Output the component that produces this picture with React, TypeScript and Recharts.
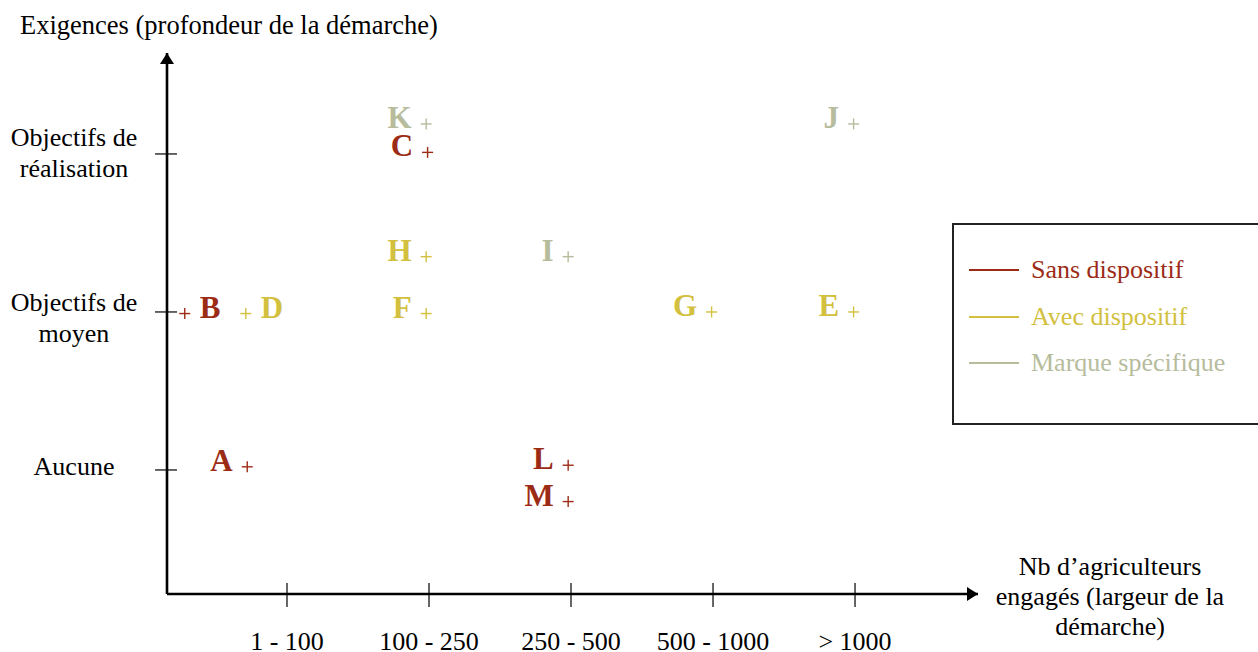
import { ScatterChart, Scatter, XAxis, YAxis, ReferenceDot } from 'recharts';

type Point = { name: string; x: number; y: number };

// x: class of farmers (1 = "1 - 100" ... 5 = "> 1000"), y: requirement level (0 = Aucune, 1 = moyen, 2 = réalisation)
const sansDispositif: Point[] = [
  { name: 'A', x: 0.72, y: 0.02 },
  { name: 'B', x: 0.28, y: 0.99 },
  { name: 'C', x: 1.99, y: 2.01 },
  { name: 'L', x: 2.98, y: 0.03 },
  { name: 'M', x: 2.98, y: -0.2 },
];
const avecDispositif: Point[] = [
  { name: 'D', x: 0.71, y: 0.99 },
  { name: 'F', x: 1.98, y: 0.99 },
  { name: 'H', x: 1.98, y: 1.35 },
  { name: 'G', x: 3.99, y: 1.0 },
  { name: 'E', x: 4.99, y: 1.0 },
];
const marqueSpecifique: Point[] = [
  { name: 'K', x: 1.98, y: 2.19 },
  { name: 'I', x: 2.98, y: 1.35 },
  { name: 'J', x: 4.99, y: 2.19 },
];

const xTicks = [1, 2, 3, 4, 5];
const xTickLabels = ['1 - 100', '100 - 250', '250 - 500', '500 - 1000', '> 1000'];
const yTicks = [0, 1, 2];
const yTickLabels = [['Aucune'], ['Objectifs de', 'moyen'], ['Objectifs de', 'réalisation']];
const seriesNames = ['Sans dispositif', 'Avec dispositif', 'Marque spécifique'];

const RED = '#9c2b16';
const YELLOW = '#d2c03e';
const GREY = '#b6bc9c';
const colors = [RED, YELLOW, GREY];

const FONT = '"Liberation Serif", "Times New Roman", serif';
const X_DOMAIN: [number, number] = [0.155, 5.866];
const Y_DOMAIN: [number, number] = [-0.785, 2.639];
const labelOnRight = ['B', 'D'];

const XTick = (props: any) => {
  const { x, y, payload, index } = props;
  return (
    <g>
      <line x1={x} x2={x} y1={y - 11} y2={y + 13} stroke="#000" strokeWidth={1.2} />
      <text x={x} y={y + 56} textAnchor="middle" fontFamily={FONT} fontSize={26} fill="#000">
        {xTickLabels[index] ?? payload.value}
      </text>
    </g>
  );
};

const YTick = (props: any) => {
  const { x, y, index } = props;
  const lines = yTickLabels[index] || [];
  const firstDy = index === 2 ? -8 : index === 1 ? -1 : 5;
  return (
    <g>
      <line x1={x - 12} x2={x + 10} y1={y} y2={y} stroke="#000" strokeWidth={1.2} />
      <text x={74} y={y + firstDy} textAnchor="middle" fontFamily={FONT} fontSize={26} fill="#000">
        {lines.map((l, i) => (
          <tspan key={i} x={74} dy={i === 0 ? 0 : 31}>
            {l}
          </tspan>
        ))}
      </text>
    </g>
  );
};

const makeMarker = (color: string) => (props: any) => {
  const { cx, cy, payload } = props;
  const right = labelOnRight.includes(payload.name);
  return (
    <g>
      <line x1={cx - 5.5} x2={cx + 5.5} y1={cy} y2={cy} stroke={color} strokeWidth={1.4} />
      <line x1={cx} x2={cx} y1={cy - 5.5} y2={cy + 5.5} stroke={color} strokeWidth={1.4} />
      <text
        x={right ? cx + 15 : cx - 14.5}
        y={cy + 4}
        textAnchor={right ? 'start' : 'end'}
        fontFamily={FONT}
        fontWeight="bold"
        fontSize={31}
        fill={color}
      >
        {payload.name}
      </text>
    </g>
  );
};

const ArrowRight = (props: any) => {
  const { cx, cy } = props;
  return <path d={`M${cx},${cy} L${cx - 11},${cy - 7} L${cx - 11},${cy + 7} Z`} fill="#000" />;
};

const ArrowUp = (props: any) => {
  const { cx, cy } = props;
  return <path d={`M${cx},${cy} L${cx - 7},${cy + 11} L${cx + 7},${cy + 11} Z`} fill="#000" />;
};

const LegendBox = () => (
  <div
    style={{
      position: 'absolute',
      left: 952,
      top: 223,
      width: 310,
      height: 202,
      border: '2px solid #222',
      background: '#fff',
      boxSizing: 'border-box',
      fontFamily: FONT,
      fontSize: 26,
      paddingTop: 22,
    }}
  >
    {seriesNames.map((n, i) => (
      <div key={n} style={{ display: 'flex', alignItems: 'center', height: 46.5, color: colors[i] }}>
        <div style={{ width: 50, height: 2, background: colors[i], marginLeft: 15, marginRight: 12 }} />
        <span>{n}</span>
      </div>
    ))}
  </div>
);

export default function App() {
  return (
    <div
      style={{
        position: 'absolute',
        left: 0,
        top: 0,
        width: 1258,
        height: 652,
        background: '#fff',
        overflow: 'hidden',
      }}
    >
      <div
        style={{
          position: 'absolute',
          left: 20,
          top: 10,
          fontFamily: FONT,
          fontSize: 26.5,
          lineHeight: '30px',
          whiteSpace: 'nowrap',
        }}
      >
        Exigences (profondeur de la démarche)
      </div>
      <div
        style={{
          position: 'absolute',
          left: 970,
          top: 552,
          width: 280,
          textAlign: 'center',
          fontFamily: FONT,
          fontSize: 26,
          lineHeight: '30px',
        }}
      >
        Nb d’agriculteurs
        <br />
        engagés (largeur de la
        <br />
        démarche)
      </div>
      <LegendBox />
      <div style={{ position: 'absolute', left: 0, top: 0 }}>
        <ScatterChart width={1258} height={652} margin={{ top: 53, right: 280, bottom: 0, left: 0 }}>
          <XAxis
            type="number"
            dataKey="x"
            domain={X_DOMAIN}
            ticks={xTicks}
            allowDataOverflow
            height={58}
            tickSize={0}
            tickMargin={0}
            tickLine={false}
            axisLine={{ stroke: '#000', strokeWidth: 2.6 }}
            tick={<XTick />}
            interval={0}
          />
          <YAxis
            type="number"
            dataKey="y"
            domain={Y_DOMAIN}
            ticks={yTicks}
            allowDataOverflow
            width={167}
            tickSize={0}
            tickMargin={0}
            tickLine={false}
            axisLine={{ stroke: '#000', strokeWidth: 2.6 }}
            tick={<YTick />}
            interval={0}
          />
          <Scatter name={seriesNames[0]} data={sansDispositif} shape={makeMarker(RED)} isAnimationActive={false} />
          <Scatter name={seriesNames[1]} data={avecDispositif} shape={makeMarker(YELLOW)} isAnimationActive={false} />
          <Scatter name={seriesNames[2]} data={marqueSpecifique} shape={makeMarker(GREY)} isAnimationActive={false} />
          <ReferenceDot x={X_DOMAIN[1]} y={Y_DOMAIN[0]} shape={<ArrowRight />} ifOverflow="visible" />
          <ReferenceDot x={X_DOMAIN[0]} y={Y_DOMAIN[1]} shape={<ArrowUp />} ifOverflow="visible" />
        </ScatterChart>
      </div>
    </div>
  );
}
